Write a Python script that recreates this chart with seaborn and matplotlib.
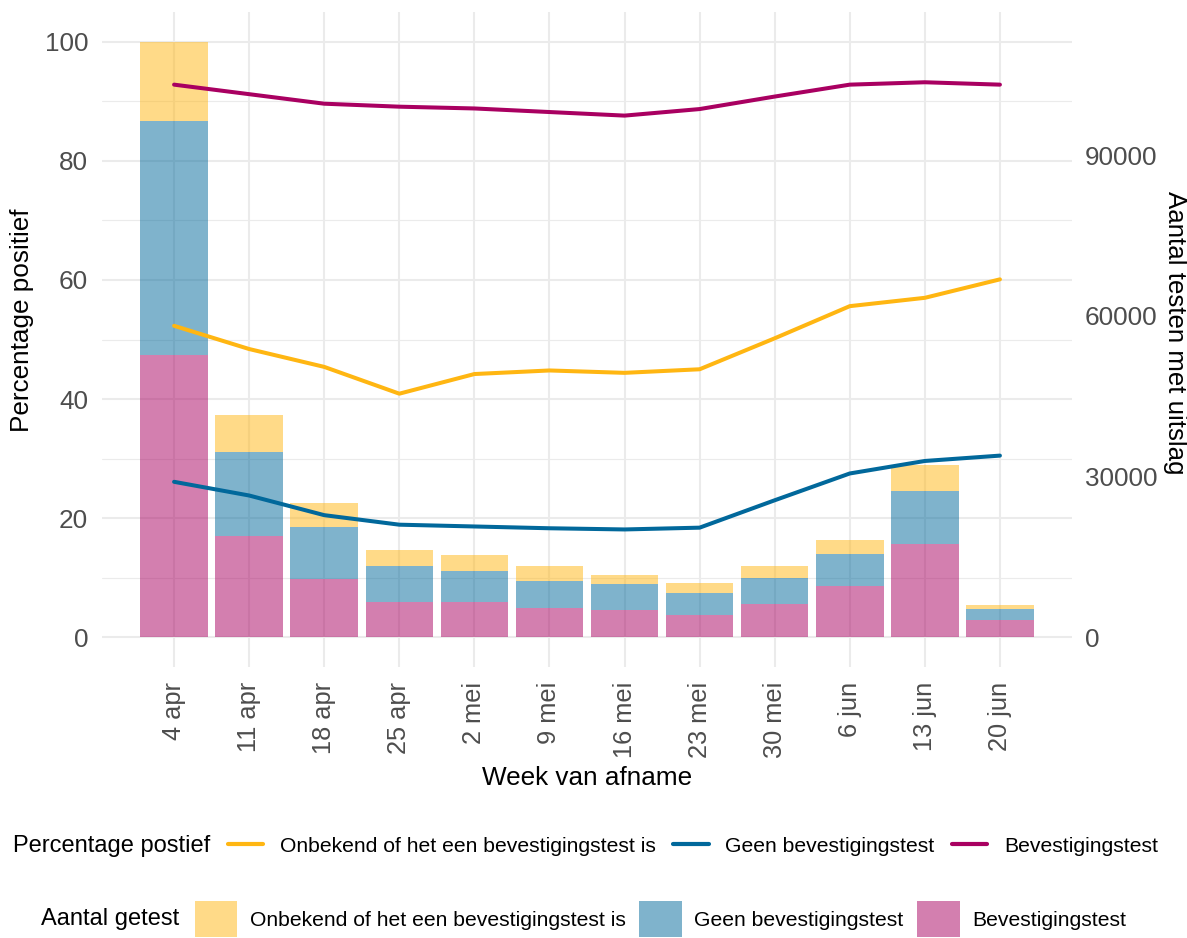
import matplotlib

matplotlib.use("Agg")

import matplotlib.pyplot as plt
import pandas as pd
import seaborn as sns
from matplotlib.lines import Line2D
from matplotlib.patches import Rectangle

sns.set_theme(style="whitegrid")
plt.rcParams["font.family"] = ["Liberation Sans", "DejaVu Sans"]
plt.rcParams["text.color"] = "black"

# data
weeks = ["4 apr", "11 apr", "18 apr", "25 apr", "2 mei", "9 mei",
         "16 mei", "23 mei", "30 mei", "6 jun", "13 jun", "20 jun"]

# aantal getest per categorie
n_bevestiging = [52770, 18890, 10890, 6550, 6670, 5440, 5000, 4220, 6220, 9550, 17440, 3220]
n_geen = [43660, 15780, 9780, 6670, 5780, 5000, 4890, 4110, 4780, 6000, 9780, 2000]
n_onbekend = [14780, 6780, 4330, 3000, 3000, 2780, 1780, 1780, 2220, 2670, 5000, 890]

# percentage positief per categorie
pct_onbekend = [52.3, 48.4, 45.4, 40.9, 44.2, 44.8, 44.4, 45.0, 50.2, 55.6, 57.0, 60.1]
pct_geen = [26.1, 23.8, 20.5, 18.9, 18.6, 18.3, 18.1, 18.4, 23.0, 27.5, 29.6, 30.5]
pct_bevestiging = [92.8, 91.2, 89.6, 89.1, 88.8, 88.2, 87.6, 88.7, 90.8, 92.8, 93.2, 92.8]

cats = ["Onbekend of het een bevestigingstest is", "Geen bevestigingstest", "Bevestigingstest"]
colors = {cats[0]: "#FFB612", cats[1]: "#01689B", cats[2]: "#A90061"}

W, H = 1187, 938
fig = plt.figure(figsize=(W / 100, H / 100), dpi=100)
ax = fig.add_axes([102 / W, 1 - 667 / H, 970 / W, 655 / H])

totals = [a + b + c for a, b, c in zip(n_bevestiging, n_geen, n_onbekend)]
scale = max(totals) / 100.0

x = list(range(len(weeks)))
bottom = [0.0] * len(weeks)
for cat, counts in [(cats[2], n_bevestiging), (cats[1], n_geen), (cats[0], n_onbekend)]:
    h = [c / scale for c in counts]
    ax.bar(x, h, bottom=bottom, width=0.9, color=colors[cat], alpha=0.5,
           linewidth=0, zorder=2)
    bottom = [b + v for b, v in zip(bottom, h)]

lines_df = pd.DataFrame({
    "idx": x * 3,
    "pct": pct_onbekend + pct_geen + pct_bevestiging,
    "type": [cats[0]] * 12 + [cats[1]] * 12 + [cats[2]] * 12,
})
sns.lineplot(data=lines_df, x="idx", y="pct", hue="type", palette=colors,
             linewidth=2.9, legend=False, ax=ax, zorder=3)

ax.set_xlim(-0.96, 11.96)
ax.set_ylim(-5, 105)
ax.set_xticks(x)
ax.set_xticklabels(weeks, rotation=90)
ax.set_yticks([0, 20, 40, 60, 80, 100])
ax.set_yticks([10, 30, 50, 70, 90], minor=True)
ax.set_xlabel("")
ax.set_ylabel("")
ax.set_facecolor("white")
ax.set_axisbelow(True)
ax.grid(which="major", color="#EBEBEB", linewidth=1.5)
ax.grid(which="minor", axis="y", color="#EBEBEB", linewidth=0.8)
ax.grid(which="minor", axis="x", visible=False)
for s in ax.spines.values():
    s.set_visible(False)
ax.tick_params(axis="x", length=0, pad=10.5, labelsize=18.3, labelcolor="#4D4D4D")
ax.tick_params(axis="y", which="both", length=0, pad=10, labelsize=18.8, labelcolor="#4D4D4D")

ax2 = ax.twinx()
ax2.set_ylim(-5 * scale, 105 * scale)
ax2.set_yticks([0, 30000, 60000, 90000])
ax2.set_yticklabels(["0", "30000", "60000", "90000"])
ax2.grid(False)
for s in ax2.spines.values():
    s.set_visible(False)
ax2.tick_params(axis="y", length=0, pad=9, labelsize=18.8, labelcolor="#4D4D4D")

fig.text(587 / W, 1 - 778 / H, "Week van afname", ha="center", va="center", fontsize=18.8)
fig.text(22 / W, 1 - 320 / H, "Percentage positief", ha="center", va="center",
         rotation=90, fontsize=18.8)
fig.text(1175 / W, 1 - 333 / H, "Aantal testen met uitslag", ha="center", va="center",
         rotation=270, fontsize=18.6)

# legend row 1: lines
fig.text(13 / W, 1 - 846 / H, "Percentage postief", ha="left", va="center", fontsize=17)
line_handles = [Line2D([0], [0], color=colors[c], linewidth=3.0) for c in cats]
fig.legend(line_handles, cats, loc="center left", bbox_to_anchor=(228 / W, 1 - 846 / H),
           frameon=False, ncol=3, fontsize=15.2, borderpad=0, borderaxespad=0,
           handlelength=1.68, handletextpad=0.8, columnspacing=0.8)

# legend row 2: bars
fig.text(41 / W, 1 - 919 / H, "Aantal getest", ha="left", va="center", fontsize=17)
patch_handles = [Rectangle((0, 0), 1, 1, facecolor=colors[c], alpha=0.5, linewidth=0) for c in cats]
fig.legend(patch_handles, cats, loc="center left", bbox_to_anchor=(195 / W, 1 - 919 / H),
           frameon=False, ncol=3, fontsize=15.2, borderpad=0, borderaxespad=0,
           handlelength=2.0, handleheight=2.2, handletextpad=0.6, columnspacing=0.65)

fig.savefig("out.png", dpi=100)
